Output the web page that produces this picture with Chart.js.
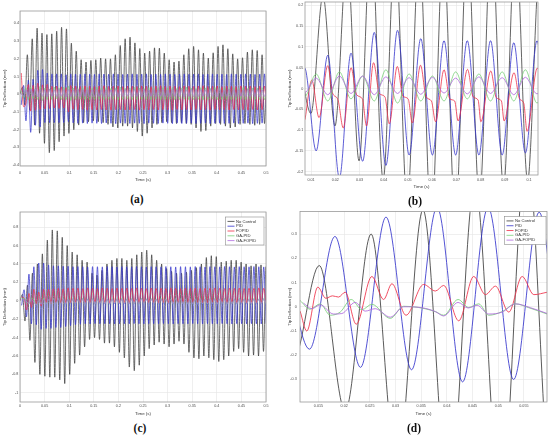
<!DOCTYPE html>
<html>
<head>
<meta charset="utf-8">
<title>Tip deflection</title>
<style>
    html, body { margin: 0; padding: 0; background: #fff; overflow: hidden; }
    body { width: 550px; height: 436px; position: relative; }
    .panel { position: absolute; }
    .tag {
        position: absolute;
        transform: translate(-50%, -50%);
        font: bold 11.5px "Liberation Serif", "Times New Roman", serif;
        color: #111;
    }
</style>
</head>
<body>
<div class="panel" id="boxA"><canvas id="chartA"></canvas></div>
<div class="panel" id="boxB"><canvas id="chartB"></canvas></div>
<div class="panel" id="boxC"><canvas id="chartC"></canvas></div>
<div class="panel" id="boxD"><canvas id="chartD"></canvas></div>
<div class="tag" style="left:137px; top:199px">(a)</div>
<div class="tag" style="left:415px; top:201px">(b)</div>
<div class="tag" style="left:140px; top:428px">(c)</div>
<div class="tag" style="left:414px; top:428px">(d)</div>

<script src="https://cdn.jsdelivr.net/npm/chart.js@4.4.0/dist/chart.umd.min.js"></script>
<script>
// Series names / colours (legend order = plot order)
const seriesNames = ["No Control", "PID", "FOPID", "GA-PID", "GA-FOPID"];
const seriesColors = ["#3c3c3c", "#3434cc", "#ee2f48", "#78d078", "#b06ade"];

// Tick labels
const xTicksA = [0, 0.05, 0.1, 0.15, 0.2, 0.25, 0.3, 0.35, 0.4, 0.45, 0.5];
const yTicksA = [-0.4, -0.3, -0.2, -0.1, 0, 0.1, 0.2, 0.3, 0.4];
const xTicksB = [0.01, 0.02, 0.03, 0.04, 0.05, 0.06, 0.07, 0.08, 0.09, 0.1];
const yTicksB = [-0.2, -0.15, -0.1, -0.05, 0, 0.05, 0.1, 0.15, 0.2];
const xTicksC = [0, 0.05, 0.1, 0.15, 0.2, 0.25, 0.3, 0.35, 0.4, 0.45, 0.5];
const yTicksC = [-1, -0.8, -0.6, -0.4, -0.2, 0, 0.2, 0.4, 0.6, 0.8];
const xTicksD = [0.015, 0.02, 0.025, 0.03, 0.035, 0.04, 0.045, 0.05, 0.055];
const yTicksD = [-0.3, -0.2, -0.1, 0, 0.1, 0.2, 0.3];

/* ===== Case 1 : panels (a) and (b) ===== */
// swing extremes, one value per half period (no control starts at t = 0)
const halfStepNoCtrlA = 0.00497;
const noControlA = [
    0, 0.04, -0.06, 0.223, -0.09, 0.313, -0.174, 0.373, -0.22, 0.345,
    -0.277, 0.337, -0.33, 0.341, -0.318, 0.356, -0.268, 0.378, -0.236, 0.369,
    -0.221, 0.288, -0.2, 0.243, -0.174, 0.195, -0.16, 0.182, -0.155, 0.191,
    -0.15, 0.195, -0.155, 0.204, -0.16, 0.2, -0.17, 0.2, -0.184, 0.223,
    -0.19, 0.275, -0.18, 0.313, -0.18, 0.322, -0.19, 0.29, -0.21, 0.258,
    -0.236, 0.232, -0.22, 0.243, -0.19, 0.262, -0.17, 0.26, -0.16, 0.232,
    -0.155, 0.195, -0.16, 0.182, -0.165, 0.187, -0.16, 0.223, -0.165, 0.257,
    -0.17, 0.27, -0.19, 0.251, -0.21, 0.232, -0.205, 0.204, -0.18, 0.234,
    -0.165, 0.27, -0.17, 0.279, -0.18, 0.257, -0.19, 0.228, -0.185, 0.2,
    -0.17, 0.206, -0.165, 0.238, -0.17, 0.251, -0.175, 0.247, -0.17, 0.223,
    -0.165, 0.2
];
// controlled responses, half period 0.0048 s from t = 0.0025 s
const startCtrlA = 0.0025;
const halfStepCtrlA = 0.0048;
const pidA = [
    -0.06, 0.05, -0.15, 0.08, -0.215, 0.085, -0.175, 0.135, -0.185, 0.14,
    -0.16, 0.12, -0.16, 0.115, -0.16, 0.115, -0.16, 0.115, -0.16, 0.11,
    -0.155, 0.115, -0.162, 0.114, -0.164, 0.113, -0.163, 0.115, -0.165, 0.114,
    -0.163, 0.112, -0.164, 0.115, -0.165, 0.114, -0.162, 0.113, -0.164, 0.115,
    -0.166, 0.114, -0.163, 0.112, -0.164, 0.114, -0.165, 0.115, -0.163, 0.113,
    -0.164, 0.114, -0.166, 0.115, -0.163, 0.112, -0.164, 0.114, -0.165, 0.113,
    -0.163, 0.115, -0.164, 0.114, -0.166, 0.112, -0.163, 0.114, -0.165, 0.115,
    -0.164, 0.113, -0.163, 0.114, -0.165, 0.115, -0.164, 0.112, -0.163, 0.114,
    -0.166, 0.115, -0.164, 0.113, -0.163, 0.114, -0.165, 0.112, -0.164, 0.115,
    -0.163, 0.114, -0.165, 0.113, -0.164, 0.115, -0.163, 0.114, -0.166, 0.112,
    -0.164, 0.114, -0.163, 0.115, -0.165
];
const fopidA = [
    0.12, -0.07, -0.05, 0.055, -0.095, 0.05, -0.09, 0.062, -0.085, 0.053,
    -0.083, 0.056, -0.08, 0.045, -0.078, 0.046, -0.08, 0.042, -0.078, 0.038,
    -0.1, 0.049, -0.085, 0.046, -0.088, 0.044, -0.086, 0.047, -0.09, 0.045,
    -0.087, 0.043, -0.089, 0.046, -0.086, 0.048, -0.088, 0.044, -0.09, 0.045,
    -0.087, 0.047, -0.086, 0.043, -0.089, 0.046, -0.088, 0.045, -0.086, 0.044,
    -0.09, 0.047, -0.087, 0.045, -0.088, 0.043, -0.086, 0.046, -0.089, 0.048,
    -0.087, 0.044, -0.088, 0.046, -0.09, 0.045, -0.086, 0.043, -0.088, 0.047,
    -0.087, 0.045, -0.089, 0.044, -0.086, 0.046, -0.088, 0.048, -0.087, 0.044,
    -0.09, 0.045, -0.086, 0.047, -0.088, 0.043, -0.087, 0.046, -0.089, 0.045,
    -0.086, 0.044, -0.088, 0.047, -0.087, 0.045, -0.09, 0.046, -0.086, 0.043,
    -0.088, 0.045, -0.087, 0.046, -0.089
];
const gaPidA = [
    0.02, -0.02, 0.035, -0.03, 0.04, -0.025, 0.03, -0.03, 0.045, -0.035,
    0.035, -0.03, 0.03, -0.03, 0.04, -0.025, 0.035, -0.03, 0.04, -0.03,
    0.045, -0.035, 0.035, -0.03, 0.032, -0.028, 0.038, -0.03, 0.036, -0.032,
    0.034, -0.03, 0.04, -0.028, 0.035, -0.031, 0.037, -0.029, 0.033, -0.03,
    0.036, -0.032, 0.039, -0.03, 0.034, -0.028, 0.036, -0.031, 0.038, -0.03,
    0.035, -0.029, 0.033, -0.031, 0.037, -0.03, 0.036, -0.028, 0.034, -0.032,
    0.038, -0.03, 0.035, -0.029, 0.037, -0.031, 0.034, -0.03, 0.036, -0.028,
    0.039, -0.031, 0.035, -0.03, 0.033, -0.029, 0.037, -0.032, 0.036, -0.03,
    0.034, -0.028, 0.038, -0.031, 0.035, -0.03, 0.036, -0.029, 0.033, -0.031,
    0.037, -0.03, 0.035, -0.028, 0.039, -0.032, 0.034, -0.03, 0.036, -0.029,
    0.035, -0.031, 0.037, -0.03, 0.034
];
const gaFopidA = [
    0.005, -0.01, 0.025, -0.015, 0.03, -0.012, 0.03, -0.015, 0.028, -0.012,
    0.026, -0.014, 0.027, -0.011, 0.025, -0.013, 0.028, -0.012, 0.026, -0.015,
    0.027, -0.013, 0.025, -0.012, 0.028, -0.014, 0.026, -0.011, 0.027, -0.013,
    0.025, -0.014, 0.028, -0.012, 0.026, -0.013, 0.027, -0.015, 0.025, -0.012,
    0.028, -0.014, 0.026, -0.013, 0.027, -0.011, 0.025, -0.014, 0.028, -0.012,
    0.026, -0.015, 0.027, -0.013, 0.025, -0.012, 0.028, -0.014, 0.026, -0.011,
    0.027, -0.013, 0.025, -0.014, 0.028, -0.012, 0.026, -0.013, 0.027, -0.015,
    0.025, -0.012, 0.028, -0.014, 0.026, -0.013, 0.027, -0.011, 0.025, -0.014,
    0.028, -0.012, 0.026, -0.015, 0.027, -0.013, 0.025, -0.012, 0.028, -0.014,
    0.026, -0.013, 0.027, -0.011, 0.025, -0.014, 0.028, -0.012, 0.026, -0.013,
    0.027, -0.015, 0.025, -0.012, 0.028
];
// FOPID detail read from the zoomed view (b)
const fopidTimesB = [
    0.0075, 0.0103, 0.0133, 0.0169, 0.0188, 0.0211, 0.0233, 0.0265, 0.0288, 0.0312,
    0.0329, 0.0358, 0.0382, 0.0405, 0.0423, 0.0456, 0.0479, 0.0501, 0.0518, 0.0552,
    0.0575, 0.0597, 0.0614, 0.0649, 0.0673, 0.0693, 0.0707, 0.0746, 0.0769, 0.0790,
    0.0801, 0.0842, 0.0865, 0.0886, 0.0897, 0.0938, 0.0961, 0.0978, 0.0992, 0.1034,
    0.1050
];
const fopidValsB = [
    -0.075, 0.02, -0.07, 0.055, -0.01, -0.027, -0.095, 0.05, -0.015, -0.025,
    -0.09, 0.062, -0.012, -0.02, -0.085, 0.053, -0.018, -0.025, -0.083, 0.056,
    -0.02, -0.03, -0.08, 0.045, -0.025, -0.03, -0.078, 0.046, -0.02, -0.028,
    -0.08, 0.042, -0.022, -0.03, -0.078, 0.038, -0.025, -0.035, -0.103, 0.049,
    0.03
];

/* ===== Case 2 : panels (c) and (d) ===== */
const halfStepNoCtrlC = 0.00505;
const noControlC = [
    0, 0.07, -0.22, 0.17, -0.43, 0.3, -0.67, 0.4, -0.8, 0.51,
    -0.82, 0.66, -0.83, 0.77, -0.83, 0.76, -0.86, 0.69, -0.9, 0.6,
    -0.8, 0.53, -0.68, 0.5, -0.59, 0.44, -0.5, 0.42, -0.42, 0.3,
    -0.4, 0.28, -0.42, 0.33, -0.46, 0.4, -0.46, 0.44, -0.5, 0.46,
    -0.56, 0.46, -0.62, 0.44, -0.72, 0.46, -0.76, 0.5, -0.7, 0.53,
    -0.6, 0.55, -0.52, 0.5, -0.48, 0.44, -0.45, 0.4, -0.47, 0.35,
    -0.5, 0.32, -0.47, 0.3, -0.44, 0.3, -0.47, 0.31, -0.56, 0.33,
    -0.62, 0.36, -0.63, 0.4, -0.6, 0.47, -0.62, 0.49, -0.64, 0.48,
    -0.66, 0.42, -0.64, 0.43, -0.6, 0.44, -0.55, 0.44, -0.52, 0.42,
    -0.56, 0.4, -0.6, 0.38, -0.59, 0.4, -0.6, 0.39, -0.55, 0.37,
    -0.5
];
const startCtrlC = 0.0033;
const halfStepCtrlC = 0.00497;
const pidC = [
    -0.05, 0.12, -0.175, 0.29, -0.25, 0.37, -0.26, 0.41, -0.31, 0.41,
    -0.3, 0.39, -0.3, 0.38, -0.29, 0.38, -0.29, 0.375, -0.28, 0.375,
    -0.27, 0.37, -0.26, 0.372, -0.255, 0.37, -0.25, 0.368, -0.252, 0.371,
    -0.248, 0.37, -0.251, 0.369, -0.249, 0.372, -0.25, 0.37, -0.252, 0.368,
    -0.249, 0.371, -0.25, 0.37, -0.251, 0.369, -0.248, 0.372, -0.25, 0.37,
    -0.252, 0.368, -0.249, 0.371, -0.25, 0.37, -0.251, 0.369, -0.248, 0.372,
    -0.25, 0.37, -0.252, 0.368, -0.249, 0.371, -0.25, 0.37, -0.251, 0.369,
    -0.248, 0.372, -0.25, 0.37, -0.252, 0.368, -0.249, 0.371, -0.25, 0.37,
    -0.251, 0.369, -0.248, 0.372, -0.25, 0.37, -0.252, 0.368, -0.249, 0.371,
    -0.25, 0.37, -0.251, 0.369, -0.248, 0.372, -0.25, 0.37, -0.252, 0.368,
    -0.249
];
const fopidC = [
    0.04, 0.03, -0.1, 0.08, -0.072, 0.125, -0.035, 0.095, -0.058, 0.125,
    -0.022, 0.125, -0.03, 0.13, -0.02, 0.135, -0.025, 0.13, -0.018, 0.14,
    -0.022, 0.135, -0.015, 0.138, -0.02, 0.132, -0.018, 0.14, -0.022, 0.136,
    -0.016, 0.134, -0.02, 0.14, -0.018, 0.137, -0.022, 0.133, -0.017, 0.139,
    -0.02, 0.135, -0.019, 0.138, -0.021, 0.134, -0.016, 0.14, -0.02, 0.136,
    -0.018, 0.133, -0.022, 0.139, -0.017, 0.135, -0.02, 0.137, -0.019, 0.134,
    -0.021, 0.14, -0.016, 0.136, -0.02, 0.133, -0.018, 0.138, -0.022, 0.135,
    -0.017, 0.139, -0.02, 0.134, -0.019, 0.137, -0.021, 0.135, -0.016, 0.14,
    -0.02, 0.136, -0.018, 0.133, -0.022, 0.138, -0.017, 0.135, -0.02, 0.139,
    -0.019, 0.134, -0.021, 0.137, -0.016, 0.135, -0.02, 0.14, -0.018, 0.136,
    -0.02
];
const gaPidC = [
    0.02, 0.026, -0.01, -0.035, 0.03, 0.01, -0.048, 0.002, -0.035, 0.03,
    -0.035, 0.012, -0.03, 0.028, -0.036, 0.02, -0.032, 0.025, -0.038, 0.022,
    -0.03, 0.026, -0.035, 0.02, -0.033, 0.027, -0.037, 0.021, -0.031, 0.024,
    -0.036, 0.022, -0.03, 0.026, -0.034, 0.02, -0.038, 0.025, -0.032, 0.023,
    -0.035, 0.027, -0.031, 0.021, -0.036, 0.024, -0.033, 0.02, -0.037, 0.026,
    -0.03, 0.022, -0.035, 0.025, -0.032, 0.021, -0.036, 0.027, -0.031, 0.023,
    -0.034, 0.02, -0.038, 0.026, -0.03, 0.024, -0.035, 0.021, -0.033, 0.025,
    -0.037, 0.022, -0.031, 0.027, -0.034, 0.02, -0.036, 0.024, -0.032, 0.026,
    -0.035, 0.021, -0.03, 0.025, -0.037, 0.023, -0.033, 0.02, -0.036, 0.027,
    -0.031, 0.024, -0.034, 0.022, -0.038, 0.026, -0.032, 0.021, -0.035, 0.025,
    -0.033
];
const gaFopidC = [
    0.015, 0.01, -0.008, -0.03, 0.018, -0.018, -0.043, 0.0, -0.038, 0.018,
    -0.03, 0.012, -0.028, 0.02, -0.032, 0.015, -0.03, 0.018, -0.034, 0.016,
    -0.028, 0.02, -0.031, 0.015, -0.029, 0.019, -0.033, 0.016, -0.03, 0.018,
    -0.032, 0.015, -0.028, 0.02, -0.031, 0.016, -0.034, 0.018, -0.029, 0.017,
    -0.031, 0.019, -0.03, 0.015, -0.033, 0.018, -0.029, 0.016, -0.032, 0.02,
    -0.028, 0.016, -0.031, 0.018, -0.03, 0.015, -0.033, 0.019, -0.029, 0.017,
    -0.031, 0.015, -0.034, 0.019, -0.028, 0.018, -0.032, 0.016, -0.03, 0.018,
    -0.033, 0.016, -0.029, 0.02, -0.031, 0.015, -0.032, 0.018, -0.03, 0.019,
    -0.032, 0.015, -0.028, 0.018, -0.033, 0.017, -0.03, 0.015, -0.032, 0.02,
    -0.029, 0.018, -0.031, 0.016, -0.034, 0.019, -0.03, 0.015, -0.032, 0.018,
    -0.03
];
// detail read from the zoomed view (d)
const fopidTimesD = [
    0.01142, 0.01272, 0.01487, 0.01643, 0.01773, 0.0189, 0.0202, 0.02235, 0.0254, 0.02768,
    0.0293, 0.03204, 0.03548, 0.03776, 0.03938, 0.04231, 0.04523, 0.04751, 0.04946, 0.05206,
    0.05466, 0.05694, 0.05954
];
const fopidValsD = [
    -0.018, -0.1, 0.081, 0.035, 0.045, 0.04, 0.06, -0.072, 0.125, 0.03,
    0.095, -0.035, 0.092, 0.065, 0.088, -0.058, 0.125, 0.05, 0.085, -0.022,
    0.125, 0.05, 0.06
];
const gaPidTimesD = [
    0.01142, 0.01337, 0.01533, 0.01728, 0.01923, 0.02137, 0.02345, 0.0254, 0.02898, 0.03158,
    0.0345, 0.03776, 0.03938, 0.04218, 0.04426, 0.04621, 0.04816, 0.05076, 0.05336, 0.05596,
    0.05954
];
const gaPidValsD = [
    0.026, -0.01, 0.012, -0.035, -0.022, 0.03, -0.012, 0.01, -0.048, 0.002,
    -0.003, -0.02, -0.035, 0.03, -0.003, 0.012, -0.035, -0.02, 0.012, -0.004,
    -0.03
];
const gaFopidTimesD = [
    0.01207, 0.0137, 0.01533, 0.01793, 0.01955, 0.02215, 0.0241, 0.02605, 0.02898, 0.03158,
    0.03515, 0.03776, 0.03938, 0.04218, 0.04413, 0.04589, 0.04816, 0.05076, 0.05336, 0.05629,
    0.05954
];
const gaFopidValsD = [
    0.015, -0.008, 0.008, -0.03, -0.028, 0.018, -0.018, -0.008, -0.043, 0.0,
    -0.004, -0.02, -0.038, 0.018, -0.005, 0.006, -0.03, -0.022, 0.012, -0.004,
    -0.028
];

/* ================= HELPERS ================= */
function wave(t0, dt, values) {
    return values.map((v, i) => ({ x: t0 + dt * i, y: v }));
}
function pairs(times, values) {
    return times.map((t, i) => ({ x: t, y: values[i] }));
}
const fmt = v => String(Math.round(v * 1000) / 1000);
const sans = "'Liberation Sans', Arial, sans-serif";

// box round the plot, plus the MATLAB style legend
const framePlugin = {
    id: "frame",
    afterDraw(chart, args, opts) {
        const { ctx, chartArea: a } = chart;
        ctx.save();
        ctx.strokeStyle = "#9a9a9a";
        ctx.lineWidth = 0.8;
        ctx.strokeRect(a.left, a.top, a.right - a.left, a.bottom - a.top);
        if (opts.legend) {
            const rowH = 4.8;
            const bw = opts.boxWidth;
            const bh = rowH * 5 + 4;
            const x0 = a.right - opts.inset - bw;
            const y0 = a.top + 5;
            ctx.fillStyle = "#fff";
            ctx.fillRect(x0, y0, bw, bh);
            ctx.strokeStyle = "#8c8c8c";
            ctx.lineWidth = 0.6;
            ctx.strokeRect(x0, y0, bw, bh);
            ctx.font = "4.2px " + sans;
            ctx.textBaseline = "middle";
            chart.data.datasets.forEach((ds, i) => {
                const y = y0 + 4.4 + i * rowH;
                ctx.strokeStyle = ds.borderColor;
                ctx.lineWidth = 0.8;
                ctx.beginPath();
                ctx.moveTo(x0 + 2, y);
                ctx.lineTo(x0 + 9, y);
                ctx.stroke();
                ctx.fillStyle = "#333";
                ctx.fillText(ds.label, x0 + 10.5, y);
            });
        }
        ctx.restore();
    }
};

function makeChart(canvasId, boxId, p) {
    const box = document.getElementById(boxId);
    box.style.left = p.box.left + "px";
    box.style.top = p.box.top + "px";
    box.style.width = p.box.width + "px";
    box.style.height = p.box.height + "px";

    const tickFont = { family: sans, size: 3.7 };
    const titleFont = { family: sans, size: 4.4 };

    return new Chart(document.getElementById(canvasId), {
        type: "line",
        data: {
            datasets: p.series.map((data, i) => ({
                label: seriesNames[i],
                data: data,
                borderColor: seriesColors[i],
                borderWidth: p.lineWidth,
                pointRadius: 0,
                fill: false,
                cubicInterpolationMode: "monotone",
                order: 5 - i
            }))
        },
        options: {
            responsive: true,
            maintainAspectRatio: false,
            animation: false,
            events: [],
            layout: { padding: { left: 0, top: 5, right: 8, bottom: 0 } },
            plugins: {
                legend: { display: false },
                tooltip: { enabled: false },
                frame: { legend: p.legend, boxWidth: p.legendWidth, inset: p.legendInset }
            },
            scales: {
                x: {
                    type: "linear",
                    min: p.xMin,
                    max: p.xMax,
                    afterBuildTicks: s => { s.ticks = p.xTicks.map(v => ({ value: v })); },
                    afterFit: s => { s.height = p.xH; },
                    grid: { color: "#e4e4e4", lineWidth: 0.6, drawTicks: false },
                    border: { display: false },
                    ticks: { padding: p.xPad, font: tickFont, color: "#4a4a4a", maxRotation: 0, autoSkip: false, callback: fmt },
                    title: { display: true, text: "Time (s)", font: titleFont, color: "#333", padding: { top: 0, bottom: p.xTitlePad } }
                },
                y: {
                    type: "linear",
                    min: p.yMin,
                    max: p.yMax,
                    afterBuildTicks: s => { s.ticks = p.yTicks.map(v => ({ value: v })); },
                    afterFit: s => { s.width = p.yW; },
                    grid: { color: "#e4e4e4", lineWidth: 0.6, drawTicks: false },
                    border: { display: false },
                    ticks: { padding: p.yPad, font: tickFont, color: "#4a4a4a", autoSkip: false, callback: fmt },
                    title: { display: true, text: "Tip Deflection (mm)", font: titleFont, color: "#333", padding: { top: p.yTitlePad, bottom: 0 } }
                }
            }
        },
        plugins: [framePlugin]
    });
}

/* ================= BUILD THE FOUR PANELS ================= */
const noCtrlSeriesA = wave(0, halfStepNoCtrlA, noControlA);
const pidSeriesA = wave(startCtrlA, halfStepCtrlA, pidA);
const gaPidSeriesA = wave(startCtrlA, halfStepCtrlA, gaPidA);
const gaFopidSeriesA = wave(startCtrlA, halfStepCtrlA, gaFopidA);

makeChart("chartA", "boxA", {
    box: { left: 0, top: 6, width: 274, height: 184 },
    yW: 20, xH: 24, xPad: 4.8, xTitlePad: 7.4, yPad: 1, yTitlePad: 2.4,
    xMin: 0, xMax: 0.5, yMin: -0.405, yMax: 0.47,
    xTicks: xTicksA, yTicks: yTicksA, lineWidth: 0.75, legend: false,
    series: [noCtrlSeriesA, pidSeriesA, wave(startCtrlA, halfStepCtrlA, fopidA), gaPidSeriesA, gaFopidSeriesA]
});

makeChart("chartB", "boxB", {
    box: { left: 278, top: -3, width: 268, height: 195 },
    yW: 27, xH: 17, xPad: 2.8, xTitlePad: 2.7, yPad: 1.7, yTitlePad: 9.4,
    xMin: 0.0075, xMax: 0.1037, yMin: -0.208, yMax: 0.208,
    xTicks: xTicksB, yTicks: yTicksB, lineWidth: 0.8, legend: false,
    series: [noCtrlSeriesA, pidSeriesA, pairs(fopidTimesB, fopidValsB), gaPidSeriesA, gaFopidSeriesA]
});

const noCtrlSeriesC = wave(0, halfStepNoCtrlC, noControlC);
const pidSeriesC = wave(startCtrlC, halfStepCtrlC, pidC);

makeChart("chartC", "boxC", {
    box: { left: 0, top: 207, width: 274, height: 215 },
    yW: 20, xH: 20, xPad: 1.8, xTitlePad: 5.4, yPad: 1.7, yTitlePad: 2.4,
    xMin: 0, xMax: 0.5, yMin: -1.1, yMax: 0.965,
    xTicks: xTicksC, yTicks: yTicksC, lineWidth: 0.75,
    legend: true, legendWidth: 38.5, legendInset: 2,
    series: [noCtrlSeriesC, pidSeriesC, wave(startCtrlC, halfStepCtrlC, fopidC),
             wave(startCtrlC, halfStepCtrlC, gaPidC), wave(startCtrlC, halfStepCtrlC, gaFopidC)]
});

makeChart("chartD", "boxD", {
    box: { left: 278, top: 206, width: 277, height: 216 },
    yW: 22, xH: 20, xPad: 1.8, xTitlePad: 5.4, yPad: 3.3, yTitlePad: 9.4,
    xMin: 0.0114, xMax: 0.0595, yMin: -0.393, yMax: 0.393,
    xTicks: xTicksD, yTicks: yTicksD, lineWidth: 0.85,
    legend: true, legendWidth: 41.5, legendInset: 1,
    series: [noCtrlSeriesC, pidSeriesC, pairs(fopidTimesD, fopidValsD),
             pairs(gaPidTimesD, gaPidValsD), pairs(gaFopidTimesD, gaFopidValsD)]
});
</script>
</body>
</html>
